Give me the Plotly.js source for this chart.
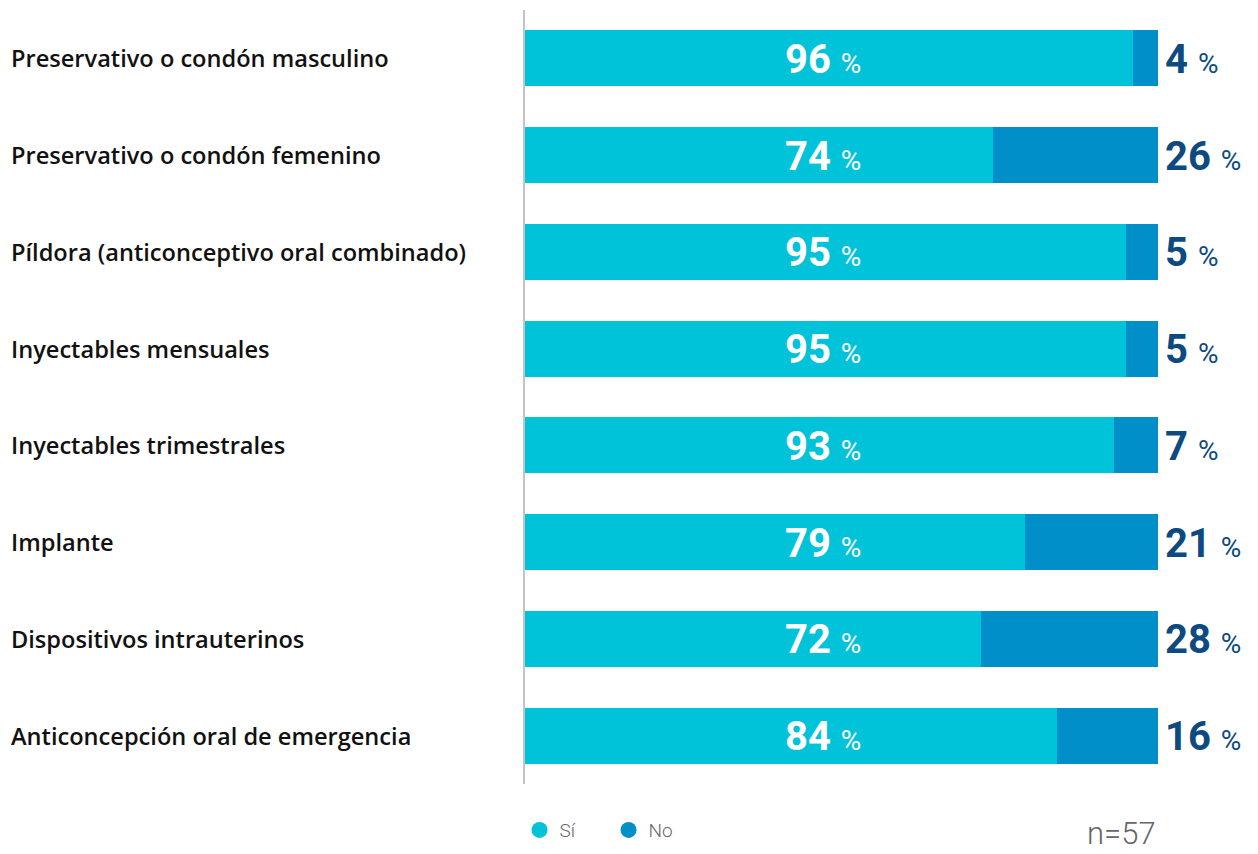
<!DOCTYPE html>
<html>
<head>
<meta charset="utf-8">
<script src="https://cdn.plot.ly/plotly-3.0.1.min.js"></script>
<style>
  body { margin: 0; background: #fff; }
  #chart { width: 1258px; height: 854px; }
</style>
</head>
<body>
<div id="chart"></div>
<script>
var metodos = [
  'Preservativo o condón masculino',
  'Preservativo o condón femenino',
  'Píldora (anticonceptivo oral combinado)',
  'Inyectables mensuales',
  'Inyectables trimestrales',
  'Implante',
  'Dispositivos intrauterinos',
  'Anticoncepción oral de emergencia'
];
var si = [96, 74, 95, 95, 93, 79, 72, 84];
var no = [4, 26, 5, 5, 7, 21, 28, 16];

var colorSi = '#00c3da';
var colorNo = '#008fc9';
var numFont = 'Roboto, sans-serif';

var data = [
  {
    type: 'bar', orientation: 'h', name: 'Sí',
    y: metodos, x: si,
    marker: { color: colorSi },
    showlegend: false, hoverinfo: 'x+y'
  },
  {
    type: 'bar', orientation: 'h', name: 'No',
    y: metodos, x: no,
    marker: { color: colorNo },
    showlegend: false, hoverinfo: 'x+y'
  },
  // solo para la leyenda (circulos)
  {
    type: 'scatter', mode: 'markers', name: 'Sí',
    x: [null], y: [null],
    marker: { color: colorSi, size: 20, symbol: 'circle' }
  },
  {
    type: 'scatter', mode: 'markers', name: 'No',
    x: [null], y: [null],
    marker: { color: colorNo, size: 20, symbol: 'circle' }
  }
];

var pct = ' <span style="font-size:28px;font-weight:400">%</span>';
var annotations = [];
for (let i = 0; i < metodos.length; i++) {
  // etiqueta de la categoria, alineada a la izquierda
  annotations.push({
    xref: 'paper', yref: 'y', x: 0, y: metodos[i],
    xanchor: 'left', xshift: -516, yshift: 0,
    text: metodos[i], showarrow: false,
    font: { family: '"Open Sans", sans-serif', size: 23.6, weight: 600, color: '#111' }
  });
  annotations.push({
    xref: 'x', yref: 'y', x: 47, y: metodos[i],
    xanchor: 'center', yshift: -1,
    text: si[i] + pct,
    showarrow: false,
    font: { family: numFont, size: 40, weight: 700, color: '#ffffff' }
  });
  annotations.push({
    xref: 'x', yref: 'y', x: si[i] + no[i], y: metodos[i],
    xanchor: 'left', xshift: 5, yshift: -1,
    text: no[i] + pct,
    showarrow: false,
    font: { family: numFont, size: 40, weight: 700, color: '#0d4a80' }
  });
}
annotations.push({
  xref: 'paper', yref: 'paper', x: 1, y: -0.064,
  xanchor: 'right', yanchor: 'middle',
  text: 'n=57', showarrow: false,
  font: { family: numFont, size: 31, weight: 300, color: '#666' }
});

var layout = {
  width: 1258, height: 854,
  margin: { l: 525, r: 100, t: 10, b: 70 },
  barmode: 'stack',
  bargap: 0.42,
  paper_bgcolor: '#fff', plot_bgcolor: '#fff',
  xaxis: {
    range: [0, 100], showgrid: false, zeroline: false,
    showticklabels: false, showline: false, fixedrange: true
  },
  yaxis: {
    autorange: 'reversed', showticklabels: false, ticks: '',
    showgrid: false, zeroline: false,
    showline: true, linecolor: '#c4c4c4', linewidth: 2, fixedrange: true
  },
  showlegend: true,
  legend: {
    orientation: 'h', traceorder: 'normal',
    xref: 'container', yref: 'container',
    x: 0.413, xanchor: 'left', y: 0.028, yanchor: 'middle',
    font: { family: numFont, size: 19, weight: 300, color: '#666' },
    entrywidth: 44, entrywidthmode: 'pixels'
  },
  annotations: annotations
};

Plotly.newPlot('chart', data, layout, { displayModeBar: false });
</script>
</body>
</html>
